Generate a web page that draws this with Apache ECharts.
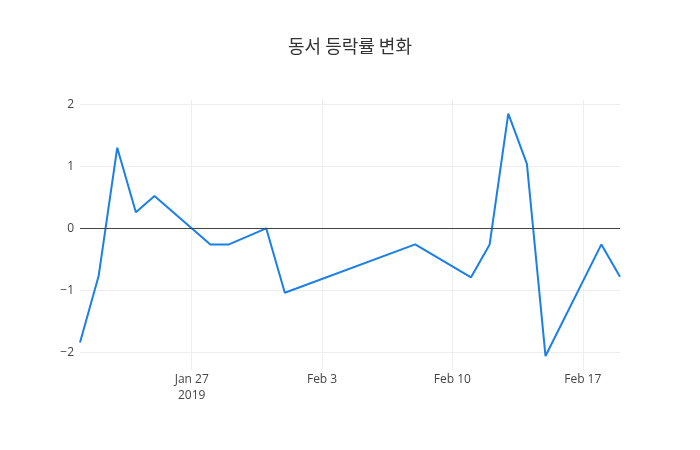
<!DOCTYPE html>
<html>
	<head>
		<meta charset="utf-8">
		<title>동서 등락률 변화</title>
		<script src="https://cdn.jsdelivr.net/npm/echarts@6/dist/echarts.min.js"></script>
		<style>
			html, body { margin: 0; padding: 0; background: #fff; }
		</style>
	</head>
	<body>
		<div id="rateChart" style="width:700px;height:450px;"></div>
		<script>
			// 거래일 (1/30, 2/7 은 선이 곧게 이어져 있어 생략)
			var dates = ['2019-01-21', '2019-01-22', '2019-01-23', '2019-01-24', '2019-01-25',
				'2019-01-28', '2019-01-29', '2019-01-31', '2019-02-01', '2019-02-08',
				'2019-02-11', '2019-02-12', '2019-02-13', '2019-02-14', '2019-02-15',
				'2019-02-18', '2019-02-19'];
			// 등락률 (%)
			var rates = [-1.84, -0.77, 1.30, 0.26, 0.52,
				-0.26, -0.26, 0, -1.04, -0.26,
				-0.79, -0.26, 1.85, 1.04, -2.06,
				-0.26, -0.78];
			var xTickDates = ['2019-01-27', '2019-02-03', '2019-02-10', '2019-02-17'];
			var xTickLabels = ['Jan 27\n2019', 'Feb 3', 'Feb 10', 'Feb 17'];
			var yTicks = [-2, -1, 0, 1, 2];

			function toTime(s) {
				var p = s.split('-');
				return Date.UTC(+p[0], +p[1] - 1, +p[2]);
			}

			var points = [];
			for (var i = 0; i < dates.length; i++) {
				points.push([toTime(dates[i]), rates[i]]);
			}
			var xTicks = xTickDates.map(toTime);

			var rateChart = echarts.init(document.getElementById('rateChart'));
			var option = {
				backgroundColor: '#fff',
				animation: false,
				title: {
					text: '동서 등락률 변화',
					left: 'center',
					top: 32,
					textStyle: {
						fontFamily: '"Noto Sans CJK KR", "Open Sans", sans-serif',
						fontSize: 18,
						fontWeight: 'normal',
						color: '#333'
					}
				},
				grid: {
					left: 80,
					right: 80,
					top: 100,
					bottom: 80
				},
				xAxis: {
					type: 'value',
					min: toTime('2019-01-21'),
					max: toTime('2019-02-19'),
					axisLine: { show: false },
					axisTick: { show: false, customValues: xTicks },
					splitLine: { show: true, lineStyle: { color: '#eee', width: 1 } },
					axisLabel: {
						customValues: xTicks,
						margin: 2,
						color: '#444',
						fontFamily: '"Open Sans", sans-serif',
						fontSize: 12,
						lineHeight: 16,
						formatter: function(v) {
							var k = xTicks.indexOf(v);
							return k >= 0 ? xTickLabels[k] : '';
						}
					}
				},
				yAxis: {
					type: 'value',
					min: -2.285,
					max: 2.069,
					axisLine: { show: false },
					axisTick: { show: false, customValues: yTicks },
					splitLine: { show: true, lineStyle: { color: '#eee', width: 1 } },
					axisLabel: {
						customValues: yTicks,
						margin: 6,
						color: '#444',
						fontFamily: '"Open Sans", sans-serif',
						fontSize: 12,
						formatter: function(v) {
							return v < 0 ? '\u2212' + Math.abs(v) : String(v);
						}
					}
				},
				series: [{
					type: 'line',
					data: points,
					symbol: 'none',
					lineStyle: { color: '#1a7fe6', width: 2 },
					markLine: {
						silent: true,
						symbol: 'none',
						label: { show: false },
						lineStyle: { color: '#444', width: 1, type: 'solid' },
						data: [{ yAxis: 0 }]
					},
					z: 3
				}]
			};
			rateChart.setOption(option);
		</script>
	</body>
</html>
